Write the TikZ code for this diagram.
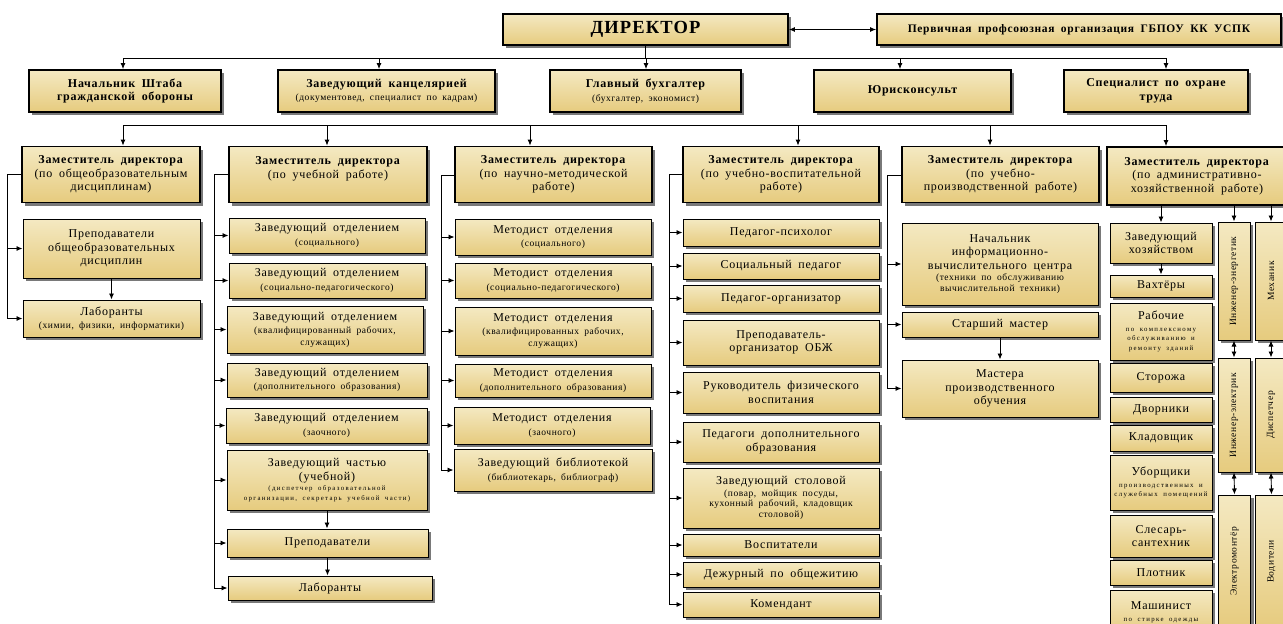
\documentclass[tikz,border=0pt]{standalone}
\usepackage{fontspec}
\setmainfont{Liberation Serif}[LetterSpace=6,WordSpace=1.8]
\newfontfamily\widefont{Liberation Serif}[LetterSpace=20,WordSpace=1.8]
\usetikzlibrary{arrows.meta,shadows}

\definecolor{boxtop}{HTML}{F4E9C2}
\definecolor{boxmid}{HTML}{FFFEF6}
\definecolor{boxbot}{HTML}{E6CB7E}
\definecolor{boxshade}{HTML}{6A6A6A}

\newcommand{\mainsz}{\fontsize{12}{13.5}\selectfont}
\newcommand{\smallsz}{\fontsize{9.5}{11}\selectfont}
\newcommand{\tinysz}{\widefont\fontsize{6.8}{8}\selectfont}

\begin{document}
\begin{tikzpicture}[x=1pt, y=-1pt,
  shadowed/.style={top color=boxtop, middle color=boxmid, bottom color=boxbot, align=center, inner sep=1pt,
    drop shadow={shadow xshift=3pt, shadow yshift=-3pt, fill=boxshade, opacity=0.9}},
  headbox/.style={shadowed, draw, line width=1.8pt, font=\mainsz\bfseries},
  deputy/.style={shadowed, draw, line width=1.8pt, font=\mainsz},
  staffbox/.style={shadowed, draw, line width=1pt, font=\mainsz},
  vbox/.style={shadowed, draw, line width=1pt, font=\fontsize{9.5}{10}\selectfont, minimum width=32pt},
  line/.style={line width=0.9pt},
  link/.style={line width=0.9pt, -{Latex[length=6pt,width=5pt]}},
  twoway/.style={line width=0.9pt, {Latex[length=6pt,width=5pt]}-{Latex[length=6pt,width=5pt]}}]

\useasboundingbox (0, 0) rectangle (1283, 624);

% director and trade union, top
\node[headbox, minimum width=285pt, minimum height=31pt, font=\fontsize{18.5}{20}\selectfont\bfseries] at (645.5, 29.5) (dir) {ДИРЕКТОР};
\node[headbox, minimum width=404pt, minimum height=31pt, font=\fontsize{11.5}{13}\selectfont\bfseries] at (1079, 29.5) (union) {Первичная профсоюзная организация ГБПОУ КК УСПК};
\draw[twoway] (dir.east) -- (union.west);

% second row
\node[headbox, minimum width=192pt, minimum height=42pt] at (125, 91) (chief) {Начальник Штаба\\гражданской обороны};
\node[headbox, minimum width=217pt, minimum height=42pt] at (386.5, 91) (office) {Заведующий канцелярией\\{\smallsz\mdseries (документовед, специалист по кадрам)}};
\node[headbox, minimum width=191pt, minimum height=42pt] at (645.5, 91) (accnt) {Главный бухгалтер\\{\smallsz\mdseries (бухгалтер, экономист)}};
\node[headbox, minimum width=197pt, minimum height=42pt] at (912.5, 91) (lawyer) {Юрисконсульт};
\node[headbox, minimum width=184pt, minimum height=42pt] at (1156, 91) (safety) {Специалист по охране\\труда};

\coordinate (busl) at (123, 58);
\coordinate (busr) at (1166, 58);
\draw[line] (dir.south) -- (dir.south |- busl);
\draw[line] (busl) -- (busr);
\foreach \n/\x in {chief/123, office/379, accnt/646, lawyer/900, safety/1166} {
  \coordinate (t\n) at (\x, 58);
  \draw[link] (t\n) -- (t\n |- \n.north);
}

% deputies
\node[deputy, minimum width=178pt, minimum height=56pt] at (111, 174.5) (dep1) {\textbf{Заместитель директора}\\(по общеобразовательным\\дисциплинам)};
\node[deputy, minimum width=198pt, minimum height=56pt] at (328, 174.5) (dep2) {\textbf{Заместитель директора}\\(по учебной работе)\\~};
\node[deputy, minimum width=197pt, minimum height=56pt] at (553.5, 174.5) (dep3) {\textbf{Заместитель директора}\\(по научно-методической\\работе)};
\node[deputy, minimum width=196pt, minimum height=56pt] at (781, 174.5) (dep4) {\textbf{Заместитель директора}\\(по учебно-воспитательной\\работе)};
\node[deputy, minimum width=197pt, minimum height=56pt] at (1000.5, 174.5) (dep5) {\textbf{Заместитель директора}\\(по учебно-\\производственной работе)};
\node[deputy, minimum width=180pt, minimum height=58pt] at (1197, 176) (dep6) {\textbf{Заместитель директора}\\(по административно-\\хозяйственной работе)};

\coordinate (lbusl) at (123, 125);
\coordinate (lbusr) at (1166, 125);
\draw[line] (lbusl) -- (lbusr);
\foreach \n/\x in {dep1/123, dep2/327, dep3/530, dep4/798, dep5/990, dep6/1166} {
  \coordinate (t\n) at (\x, 125);
  \draw[link] (t\n) -- (t\n |- \n.north);
}

% column 1
\node[staffbox, minimum width=177pt, minimum height=59pt] at (111.5, 248.5) (gsteach) {Преподаватели\\общеобразовательных\\дисциплин};
\node[staffbox, minimum width=177pt, minimum height=37pt] at (111.5, 318.5) (gslab) {Лаборанты\\{\smallsz (химии, физики, информатики)}};
\coordinate (sp1) at (7, 174.5);
\draw[line] (dep1.west) -- (sp1) -- (sp1 |- gslab.west);
\foreach \n in {gsteach, gslab} \draw[link] (sp1 |- \n.west) -- (\n.west);
\draw[link] (gsteach.south) -- (gslab.north);

% column 2
\node[staffbox, minimum width=196pt, minimum height=35pt] at (327, 235.5) (edsoc) {Заведующий отделением\\{\smallsz (социального)}};
\node[staffbox, minimum width=196pt, minimum height=35pt] at (327, 280.5) (edsped) {Заведующий отделением\\{\smallsz (социально-педагогического)}};
\node[staffbox, minimum width=196pt, minimum height=47pt] at (325, 329.5) (edqual) {Заведующий отделением\\{\smallsz (квалифицированный рабочих,}\\[-2pt]{\smallsz служащих)}};
\node[staffbox, minimum width=200pt, minimum height=34pt] at (327, 380) (edext) {Заведующий отделением\\{\smallsz (дополнительного образования)}};
\node[staffbox, minimum width=201pt, minimum height=35pt] at (326.5, 425.5) (edcorr) {Заведующий отделением\\{\smallsz (заочного)}};
\node[staffbox, minimum width=200pt, minimum height=60pt] at (327, 480) (edpart) {Заведующий частью\\(учебной)\\[-3pt]{\tinysz (диспетчер образовательной}\\[-4pt]{\tinysz организации, секретарь учебной части)}};
\node[staffbox, minimum width=201pt, minimum height=28pt] at (327.5, 543) (edteach) {Преподаватели};
\node[staffbox, minimum width=204pt, minimum height=24pt] at (330, 588) (edlab) {Лаборанты};
\coordinate (sp2) at (214, 174.5);
\draw[line] (dep2.west) -- (sp2) -- (sp2 |- edlab.west);
\foreach \n in {edsoc, edsped, edqual, edext, edcorr, edpart, edteach, edlab} \draw[link] (sp2 |- \n.west) -- (\n.west);
\draw[link] (edpart.south) -- (edpart.south |- edteach.north);
\draw[link] (edteach.south) -- (edteach.south |- edlab.north);

% column 3
\node[staffbox, minimum width=196pt, minimum height=36pt] at (553, 237) (mtsoc) {Методист отделения\\{\smallsz (социального)}};
\node[staffbox, minimum width=196pt, minimum height=35pt] at (553, 280.5) (mtsped) {Методист отделения\\{\smallsz (социально-педагогического)}};
\node[staffbox, minimum width=196pt, minimum height=48pt] at (553, 331) (mtqual) {Методист отделения\\{\smallsz (квалифицированных рабочих,}\\[-2pt]{\smallsz служащих)}};
\node[staffbox, minimum width=196pt, minimum height=33pt] at (553, 380.5) (mtext) {Методист отделения\\{\smallsz (дополнительного образования)}};
\node[staffbox, minimum width=196pt, minimum height=37pt] at (552, 425.5) (mtcorr) {Методист отделения\\{\smallsz (заочного)}};
\node[staffbox, minimum width=198pt, minimum height=42pt] at (553, 470) (mtlib) {Заведующий библиотекой\\{\smallsz (библиотекарь, библиограф)}};
\coordinate (sp3) at (441, 175);
\draw[line] (dep3.west |- sp3) -- (sp3) -- (sp3 |- mtlib.west);
\foreach \n in {mtsoc, mtsped, mtqual, mtext, mtcorr, mtlib} \draw[link] (sp3 |- \n.west) -- (\n.west);

% column 4
\node[staffbox, minimum width=196pt, minimum height=27pt] at (781, 232.5) (psy) {Педагог-психолог};
\node[staffbox, minimum width=196pt, minimum height=26pt] at (781, 266) (socped) {Социальный педагог};
\node[staffbox, minimum width=196pt, minimum height=27pt] at (781, 298.5) (orgped) {Педагог-организатор};
\node[staffbox, minimum width=196pt, minimum height=45pt] at (781, 342.5) (obzh) {Преподаватель-\\организатор ОБЖ};
\node[staffbox, minimum width=196pt, minimum height=41pt] at (781, 392.5) (sport) {Руководитель физического\\воспитания};
\node[staffbox, minimum width=196pt, minimum height=40pt] at (781, 442) (addped) {Педагоги дополнительного\\образования};
\node[staffbox, minimum width=196pt, minimum height=60pt] at (781, 498) (canteen) {Заведующий столовой\\[-2pt]{\smallsz (повар, мойщик посуды,}\\[-3pt]{\smallsz кухонный рабочий, кладовщик}\\[-3pt]{\smallsz столовой)}};
\node[staffbox, minimum width=196pt, minimum height=22pt] at (781, 545) (tutors) {Воспитатели};
\node[staffbox, minimum width=196pt, minimum height=25pt] at (781, 574.5) (duty) {Дежурный по общежитию};
\node[staffbox, minimum width=196pt, minimum height=25pt] at (781, 604.5) (comm) {Комендант};
\coordinate (sp4) at (669, 174);
\draw[line] (dep4.west |- sp4) -- (sp4) -- (sp4 |- comm.west);
\foreach \n in {psy, socped, orgped, obzh, sport, addped, canteen, tutors, duty, comm} \draw[link] (sp4 |- \n.west) -- (\n.west);

% column 5
\node[staffbox, minimum width=196pt, minimum height=82pt] at (1000, 264) (itc) {Начальник\\информационно-\\вычислительного центра\\[-2pt]{\smallsz (техники по обслуживанию}\\[-3pt]{\smallsz вычислительной техники)}};
\node[staffbox, minimum width=196pt, minimum height=25pt] at (1000, 324.5) (senmst) {Старший мастер};
\node[staffbox, minimum width=196pt, minimum height=57pt] at (1000, 388.5) (masters) {Мастера\\производственного\\обучения};
\coordinate (sp5) at (887, 175);
\draw[line] (dep5.west |- sp5) -- (sp5) -- (sp5 |- masters.west);
\foreach \n in {itc, senmst, masters} \draw[link] (sp5 |- \n.west) -- (\n.west);
\draw[link] (senmst.south) -- (masters.north);

% column 6
\node[staffbox, minimum width=102pt, minimum height=40pt] at (1161, 243) (house) {Заведующий\\хозяйством};
\node[staffbox, minimum width=102pt, minimum height=22pt] at (1161, 286) (guards) {Вахтёры};
\node[staffbox, minimum width=102pt, minimum height=57pt] at (1161, 331.5) (workers) {Рабочие\\[-2pt]{\tinysz по комплексному}\\[-4pt]{\tinysz обслуживанию и}\\[-4pt]{\tinysz ремонту зданий}};
\node[staffbox, minimum width=102pt, minimum height=29pt] at (1161, 377.5) (watch) {Сторожа};
\node[staffbox, minimum width=102pt, minimum height=25pt] at (1161, 409.5) (yard) {Дворники};
\node[staffbox, minimum width=102pt, minimum height=26pt] at (1161, 438) (store) {Кладовщик};
\node[staffbox, minimum width=102pt, minimum height=55pt] at (1161, 482.5) (clean) {Уборщики\\[-2pt]{\tinysz производственных и}\\[-4pt]{\tinysz служебных помещений}};
\node[staffbox, minimum width=102pt, minimum height=42pt] at (1161, 536) (plumb) {Слесарь-\\сантехник};
\node[staffbox, minimum width=102pt, minimum height=25pt] at (1161, 572.5) (carp) {Плотник};
\node[staffbox, minimum width=102pt, minimum height=45pt] at (1161, 612.5) (mach) {Машинист\\[-2pt]{\tinysz по стирке одежды}};

\node[vbox, minimum height=118pt] at (1234, 281) (energ) {\rotatebox{90}{Инженер-энергетик}};
\node[vbox, minimum height=118pt] at (1271, 281) (mech) {\rotatebox{90}{Механик}};
\node[vbox, minimum height=114pt] at (1234, 415) (elec) {\rotatebox{90}{Инженер-электрик}};
\node[vbox, minimum height=114pt] at (1271, 415) (disp) {\rotatebox{90}{Диспетчер}};
\node[vbox, minimum height=133pt] at (1234.5, 561.5) (electr) {\rotatebox{90}{Электромонтёр}};
\node[vbox, minimum height=133pt] at (1271.5, 561.5) (drivers) {\rotatebox{90}{Водители}};

\draw[link] (house.north |- dep6.south) -- (house.north);
\draw[link] (energ.north |- dep6.south) -- (energ.north);
\draw[link] (mech.north |- dep6.south) -- (mech.north);
\draw[link] (house.south) -- (guards.north);
\draw[twoway] (energ.south) -- (elec.north);
\draw[twoway] (mech.south) -- (disp.north);
\draw[twoway] (elec.south) -- (electr.north);
\draw[twoway] (disp.south) -- (drivers.north);

\end{tikzpicture}
\end{document}
